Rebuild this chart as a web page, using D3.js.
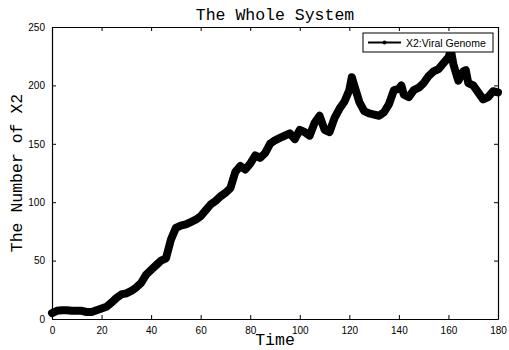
<!DOCTYPE html>
<html>
<head>
<meta charset="utf-8">
<script src="https://cdn.jsdelivr.net/npm/d3@7"></script>
<style>
  body { margin: 0; background: #fff; }
  svg { display: block; }
</style>
</head>
<body>
<svg width="509" height="350"></svg>
<script>
// Sampled readings of X2 over time
const times = [0, 2, 4, 6, 8, 10, 12, 14, 16, 18, 20, 22, 24, 26, 28, 30, 32, 34, 36, 38,
  40, 42, 44, 46, 48, 50, 52, 54, 56, 58, 60, 62, 64, 66, 68, 70, 72, 74, 76, 78,
  80, 82, 84, 86, 88, 90, 92, 94, 96, 98, 100, 102, 104, 106, 108, 110, 112, 114, 116, 118,
  120, 121, 122, 124, 126, 128, 130, 132, 134, 136, 138, 140, 141, 142, 144, 146, 148, 150, 152, 154,
  156, 158, 160, 161, 162, 164, 166, 167, 168, 170, 172, 174, 176, 178, 180];
const x2Values = [5, 7, 7.5, 7.5, 7, 7, 7, 6, 6, 7.5, 9, 10.5, 14, 18, 21, 22, 24, 27, 31, 38,
  42, 46, 50, 52, 68, 78, 80, 81, 83, 85, 88, 93, 98, 101, 105, 108, 112, 126, 131, 128,
  133, 140, 138, 142, 150, 153, 155, 157, 159, 154, 162, 160, 157, 168, 174, 162, 160, 172, 180, 186,
  196, 207, 200, 186, 178, 176, 175, 174, 177, 184, 196, 197, 200, 192, 190, 196, 198, 202, 208, 212,
  214, 219, 224, 230, 218, 204, 212, 213, 202, 200, 194, 188, 190, 195, 194];
const xTicks = [0, 20, 40, 60, 80, 100, 120, 140, 160, 180];
const yTicks = [0, 50, 100, 150, 200, 250];
const seriesName = "X2:Viral Genome";

const svg = d3.select("svg");
const margin = { left: 52, right: 11, top: 27, bottom: 31 };
const width = 509 - margin.left - margin.right;
const height = 350 - margin.top - margin.bottom;

const x = d3.scaleLinear().domain([0, 180]).range([0, width]);
const y = d3.scaleLinear().domain([0, 250]).range([height, 0]);

const g = svg.append("g").attr("transform", `translate(${margin.left},${margin.top})`);

// data line (thick, like the dense marker trace)
const line = d3.line().x((d, i) => x(times[i])).y(d => y(d));
g.append("path")
  .datum(x2Values)
  .attr("d", line)
  .attr("fill", "none")
  .attr("stroke", "#000")
  .attr("stroke-width", 8)
  .attr("stroke-linejoin", "round")
  .attr("stroke-linecap", "round");

// axes with inward ticks, matlab style box
const tickFont = "Liberation Sans, Arial, sans-serif";
const axBottom = g.append("g").attr("transform", `translate(0,${height})`)
  .call(d3.axisBottom(x).tickValues(xTicks).tickSizeInner(-4).tickSizeOuter(0).tickPadding(8));
const axTop = g.append("g")
  .call(d3.axisTop(x).tickValues(xTicks).tickSizeInner(-4).tickSizeOuter(0).tickFormat(""));
const axLeft = g.append("g")
  .call(d3.axisLeft(y).tickValues(yTicks).tickSizeInner(-4).tickSizeOuter(0).tickPadding(7));
const axRight = g.append("g").attr("transform", `translate(${width},0)`)
  .call(d3.axisRight(y).tickValues(yTicks).tickSizeInner(-4).tickSizeOuter(0).tickFormat(""));

[axBottom, axTop, axLeft, axRight].forEach(a => {
  a.selectAll("path").attr("stroke", "#000").attr("stroke-width", 1.2);
  a.selectAll("line").attr("stroke", "#000");
  a.selectAll("text").attr("font-family", tickFont).attr("font-size", 10).attr("fill", "#000");
});

// title and axis labels
const mono = "Liberation Mono, Courier New, monospace";
svg.append("text")
  .attr("x", margin.left + width / 2).attr("y", 20)
  .attr("text-anchor", "middle")
  .attr("font-family", mono).attr("font-size", 16.5)
  .text("The Whole System");
svg.append("text")
  .attr("x", margin.left + width / 2).attr("y", 345)
  .attr("text-anchor", "middle")
  .attr("font-family", mono).attr("font-size", 16.5)
  .text("Time");
svg.append("text")
  .attr("transform", `translate(22,${margin.top + height / 2}) rotate(-90)`)
  .attr("text-anchor", "middle")
  .attr("font-family", mono).attr("font-size", 16.5)
  .text("The Number of X2");

// legend
const lg = svg.append("g").attr("transform", "translate(363,33)");
lg.append("rect").attr("width", 130).attr("height", 19)
  .attr("fill", "#fff").attr("stroke", "#000").attr("stroke-width", 1);
lg.append("line").attr("x1", 5).attr("x2", 38).attr("y1", 9.5).attr("y2", 9.5)
  .attr("stroke", "#000").attr("stroke-width", 2.2);
lg.append("circle").attr("cx", 21.5).attr("cy", 9.5).attr("r", 2).attr("fill", "#000");
lg.append("text").attr("x", 43).attr("y", 13.5)
  .attr("font-family", tickFont).attr("font-size", 10.5)
  .text(seriesName);
</script>
</body>
</html>
